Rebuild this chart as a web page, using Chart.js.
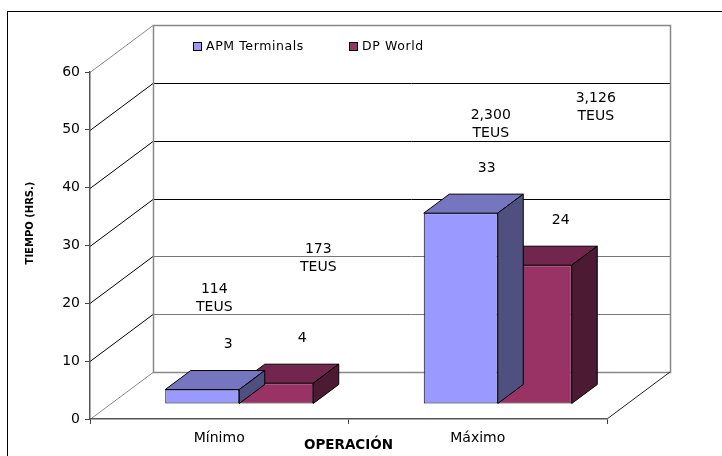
<!DOCTYPE html>
<html>
<head>
<meta charset="utf-8">
<script src="https://cdn.jsdelivr.net/npm/chart.js@4.4.1/dist/chart.umd.min.js"></script>
<style>
  body { margin: 0; background: #fff; }
  #wrap { width: 722px; height: 456px; }
</style>
</head>
<body>
<div id="wrap"><canvas id="tiempoChart" width="722" height="456"></canvas></div>
<script>
// datos
const categories = ['Mínimo', 'Máximo'];
const apmHours = [2.5, 33];
const dpHours = [3.6, 24];
const apmTeus = ['114', '2,300'];
const dpTeus = ['173', '3,126'];
const seriesNames = ['APM Terminals', 'DP World'];

const FONT = 'DejaVu Sans';

// colores de las caras (frente, arriba, lado)
const faceColors = [
    { front: '#9999FF', top: '#7676C0', side: '#4F4F80' },
    { front: '#993366', top: '#73264D', side: '#4D1A33' }
];

// efecto 3D
const wallDepth = { dx: 63, dy: -47 };
const barShift = { dx: 20, dy: -15 };
const barDepth = { dx: 25.5, dy: -19 };

const chart3d = {
    id: 'chart3d',
    beforeDraw(chart) {
        const ctx = chart.ctx;
        const { left, right, top, bottom } = chart.chartArea;
        const y = chart.scales.y;
        ctx.save();
        // marco exterior
        ctx.strokeStyle = '#000';
        ctx.lineWidth = 1;
        ctx.strokeRect(7.5, 11.5, 900, 900);

        // pared del fondo
        const bl = left + wallDepth.dx, br = right + wallDepth.dx;
        const bt = top + wallDepth.dy, bb = bottom + wallDepth.dy;
        ctx.fillStyle = '#fff';
        ctx.fillRect(bl, bt, br - bl, bb - bt);

        y.ticks.forEach(t => {
            const py = Math.round(y.getPixelForValue(t.value)) + 0.5;
            // lineas del fondo
            if (t.value > 0 && t.value < 60) {
                ctx.strokeStyle = t.value >= 30 ? '#000' : '#777';
                ctx.beginPath();
                ctx.moveTo(bl, py + wallDepth.dy);
                ctx.lineTo(br, py + wallDepth.dy);
                ctx.stroke();
            }
            // lineas de la pared lateral
            ctx.strokeStyle = (t.value > 0 && t.value < 60) ? '#000' : '#888';
            ctx.beginPath();
            ctx.moveTo(left, py);
            ctx.lineTo(bl, py + wallDepth.dy);
            ctx.stroke();
        });

        ctx.strokeStyle = '#888';
        ctx.lineWidth = 1.5;
        ctx.strokeRect(Math.round(bl) + 0.5, Math.round(bt) + 0.5, br - bl, bb - bt);

        // borde derecho del piso
        ctx.strokeStyle = '#222';
        ctx.lineWidth = 1;
        ctx.beginPath();
        ctx.moveTo(right, bottom);
        ctx.lineTo(br, bb);
        ctx.stroke();

        // leyenda
        const legendX = [193, 349];
        ctx.font = '12.5px "' + FONT + '"';
        ctx.letterSpacing = '0.6px';
        ctx.textBaseline = 'middle';
        chart.data.datasets.forEach((ds, i) => {
            ctx.fillStyle = faceColors[i].front;
            ctx.fillRect(legendX[i] + 0.5, 42.5, 8, 8);
            ctx.strokeStyle = '#000';
            ctx.lineWidth = 1;
            ctx.strokeRect(legendX[i] + 0.5, 42.5, 8, 8);
            ctx.fillStyle = '#000';
            ctx.fillText(ds.label, legendX[i] + 13, 47);
        });

        // titulo del eje Y
        ctx.letterSpacing = '0px';
        ctx.translate(30, 223);
        ctx.rotate(-Math.PI / 2);
        ctx.font = 'bold 10px "' + FONT + '"';
        ctx.textAlign = 'center';
        ctx.fillText('TIEMPO (HRS.)', 0, 0);
        ctx.restore();
    },
    beforeDatasetDraw(chart) {
        chart.ctx.save();
        chart.ctx.translate(barShift.dx, barShift.dy);
    },
    afterDatasetDraw(chart, args) {
        const ctx = chart.ctx;
        const c = faceColors[args.index];
        ctx.lineWidth = 1;
        ctx.strokeStyle = '#000';
        ctx.lineJoin = 'miter';
        args.meta.data.forEach(bar => {
            const l = bar.x - bar.width / 2, r = bar.x + bar.width / 2;
            const t = bar.y, b = bar.base;
            // cara superior
            ctx.beginPath();
            ctx.moveTo(l, t);
            ctx.lineTo(l + barDepth.dx, t + barDepth.dy);
            ctx.lineTo(r + barDepth.dx, t + barDepth.dy);
            ctx.lineTo(r, t);
            ctx.closePath();
            ctx.fillStyle = c.top;
            ctx.fill();
            ctx.stroke();
            // cara lateral
            ctx.beginPath();
            ctx.moveTo(r, t);
            ctx.lineTo(r + barDepth.dx, t + barDepth.dy);
            ctx.lineTo(r + barDepth.dx, b + barDepth.dy);
            ctx.lineTo(r, b);
            ctx.closePath();
            ctx.fillStyle = c.side;
            ctx.fill();
            ctx.stroke();
        });
        ctx.restore();
    },
    afterDatasetsDraw(chart, args, opts) {
        const ctx = chart.ctx;
        const y = chart.scales.y;
        ctx.save();
        ctx.fillStyle = '#000';
        ctx.font = '14px "' + FONT + '"';
        ctx.textAlign = 'center';
        ctx.textBaseline = 'middle';
        chart.data.datasets.forEach((ds, i) => {
            const meta = chart.getDatasetMeta(i);
            meta.data.forEach((bar, j) => {
                // valor
                ctx.fillText(String(Math.round(ds.data[j])), bar.x + 46, bar.y - 60);
                // TEUS
                const p = opts.teusPos[i][j];
                const ty = y.getPixelForValue(p[1]);
                ctx.fillText(ds.teus[j], bar.x + p[0], ty - 9);
                ctx.fillText('TEUS', bar.x + p[0], ty + 9);
            });
        });
        ctx.restore();
    }
};

const ctx = document.getElementById('tiempoChart').getContext('2d');
const tiempoChart = new Chart(ctx, {
    type: 'bar',
    data: {
        labels: categories,
        datasets: [
            {
                label: seriesNames[0],
                data: apmHours,
                teus: apmTeus,
                backgroundColor: faceColors[0].front
            },
            {
                label: seriesNames[1],
                data: dpHours,
                teus: dpTeus,
                backgroundColor: faceColors[1].front
            }
        ]
    },
    options: {
        responsive: false,
        animation: false,
        layout: { padding: { left: 20, top: 72, right: 115, bottom: 0 } },
        datasets: {
            bar: {
                borderColor: '#000',
                borderWidth: 1,
                borderSkipped: false,
                barPercentage: 1,
                categoryPercentage: 0.5725,
                clip: false
            }
        },
        plugins: {
            legend: { display: false },
            tooltip: { enabled: false },
            chart3d: {
                teusPos: [[[32, 20.8], [50, 51]], [[62, 27.7], [81, 53.8]]]
            }
        },
        scales: {
            x: {
                afterFit(scale) { scale.height = 37; },
                grid: { drawOnChartArea: false, drawTicks: true, tickLength: 5, color: '#444' },
                border: { color: '#555', width: 1.5 },
                ticks: { color: '#000', padding: 6, font: { family: FONT, size: 14 } },
                title: {
                    display: true,
                    text: 'OPERACIÓN',
                    color: '#000',
                    padding: { top: 0, bottom: 2 },
                    font: { family: FONT, size: 13.5, weight: 'bold' }
                }
            },
            y: {
                min: 0,
                max: 60,
                afterFit(scale) { scale.width = 70; },
                grid: { drawOnChartArea: false, drawTicks: true, tickLength: 5, color: '#444' },
                border: { color: '#555', width: 1.5 },
                ticks: { stepSize: 10, color: '#000', padding: 5, font: { family: FONT, size: 14 } }
            }
        }
    },
    plugins: [chart3d]
});
</script>
</body>
</html>
